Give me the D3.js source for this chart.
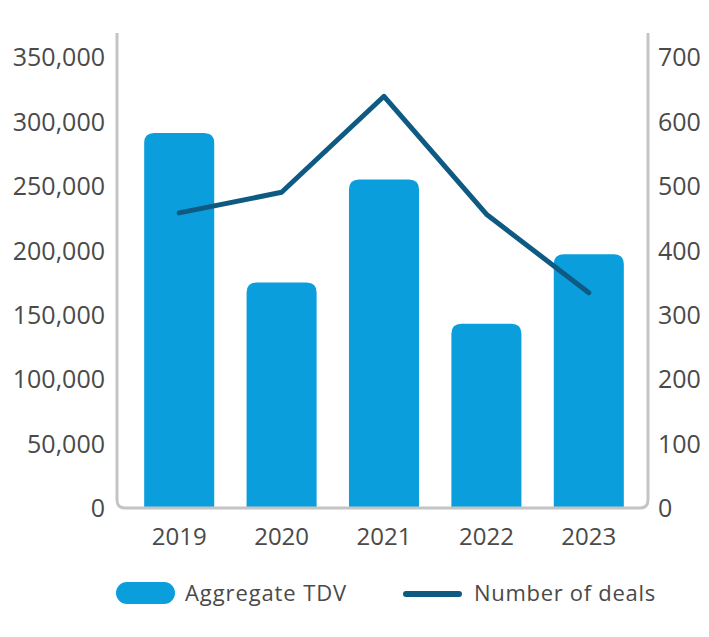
<!DOCTYPE html>
<html>
<head>
<meta charset="utf-8">
<script src="https://cdn.jsdelivr.net/npm/d3@7"></script>
<style>
  body { margin: 0; background: #fff; }
  svg { display: block; font-family: "Open Sans", "Noto Sans", sans-serif; }
</style>
</head>
<body>
<svg id="chart" width="709" height="637"></svg>
<script>
// chart data
const years = ["2019", "2020", "2021", "2022", "2023"];
const aggregateTdv = [291000, 175000, 255000, 143000, 197000];
const numberOfDeals = [458, 490, 639, 456, 334];
const leftTicks = [0, 50000, 100000, 150000, 200000, 250000, 300000, 350000];
const rightTicks = [0, 100, 200, 300, 400, 500, 600, 700];
const legendLabels = ["Aggregate TDV", "Number of deals"];

const barColor = "#0a9fdc";
const lineColor = "#0e5a83";
const axisColor = "#c4c4c4";
const textColor = "#4a4a4a";

const svg = d3.select("#chart");

const plotLeft = 117, plotRight = 648, plotBottom = 508, plotTop = 57, axisTop = 33;

const x = d3.scaleBand()
  .domain(years)
  .range([128, 640])
  .paddingInner(0.316)
  .paddingOuter(0.158);

const yLeft = d3.scaleLinear().domain([0, 350000]).range([plotBottom, plotTop]);
const yRight = d3.scaleLinear().domain([0, 700]).range([plotBottom, plotTop]);

// bars with rounded tops
const r = 10;
svg.append("g")
  .selectAll("path")
  .data(aggregateTdv)
  .join("path")
  .attr("fill", barColor)
  .attr("d", (d, i) => {
    const x0 = x(years[i]), w = x.bandwidth(), y0 = yLeft(d);
    return `M${x0},${plotBottom} V${y0 + r} Q${x0},${y0} ${x0 + r},${y0} H${x0 + w - r} Q${x0 + w},${y0} ${x0 + w},${y0 + r} V${plotBottom} Z`;
  });

// frame: left axis, bottom, right axis with rounded corners
const c = 8;
svg.append("path")
  .attr("fill", "none")
  .attr("stroke", axisColor)
  .attr("stroke-width", 3)
  .attr("d", `M${plotLeft},${axisTop} V${plotBottom - c} Q${plotLeft},${plotBottom} ${plotLeft + c},${plotBottom} H${plotRight - c} Q${plotRight},${plotBottom} ${plotRight},${plotBottom - c} V${axisTop}`);

// line
const line = d3.line()
  .x((d, i) => x(years[i]) + x.bandwidth() / 2)
  .y(d => yRight(d));

svg.append("path")
  .datum(numberOfDeals)
  .attr("fill", "none")
  .attr("stroke", lineColor)
  .attr("stroke-width", 5)
  .attr("stroke-linecap", "round")
  .attr("stroke-linejoin", "round")
  .attr("d", line);

// axes (labels only)
const fmt = d3.format(",");

const gl = svg.append("g")
  .attr("transform", `translate(${plotLeft - 12},0)`)
  .call(d3.axisLeft(yLeft).tickValues(leftTicks).tickFormat(fmt).tickSize(0).tickPadding(0));

const gr = svg.append("g")
  .attr("transform", `translate(${plotRight + 10},0)`)
  .call(d3.axisRight(yRight).tickValues(rightTicks).tickSize(0).tickPadding(0));

const gb = svg.append("g")
  .attr("transform", `translate(0,${plotBottom + 14})`)
  .call(d3.axisBottom(x).tickSize(0).tickPadding(0));

[gl, gr, gb].forEach(g => {
  g.select(".domain").remove();
  g.selectAll("text")
    .attr("fill", textColor)
    .style("font-size", "25px")
    .style("font-family", "'Open Sans', 'Noto Sans', sans-serif");
});
gl.selectAll("text").attr("dy", "0.35em");
gr.selectAll("text").attr("dy", "0.35em");
gb.selectAll("text").attr("dy", "0.95em").style("font-size", "24px");

// legend
const lg = svg.append("g").style("font-size", "22px").attr("fill", textColor);
lg.append("rect")
  .attr("x", 116).attr("y", 582)
  .attr("width", 59).attr("height", 22)
  .attr("rx", 11)
  .attr("fill", barColor);
lg.append("text")
  .attr("x", 185).attr("y", 593).attr("dy", "0.35em")
  .style("letter-spacing", "0.9px")
  .text(legendLabels[0]);

lg.append("line")
  .attr("x1", 406).attr("x2", 459)
  .attr("y1", 594).attr("y2", 594)
  .attr("stroke", lineColor)
  .attr("stroke-width", 6)
  .attr("stroke-linecap", "round");
lg.append("text")
  .attr("x", 474).attr("y", 593).attr("dy", "0.35em")
  .style("letter-spacing", "0.7px")
  .text(legendLabels[1]);
</script>
</body>
</html>
